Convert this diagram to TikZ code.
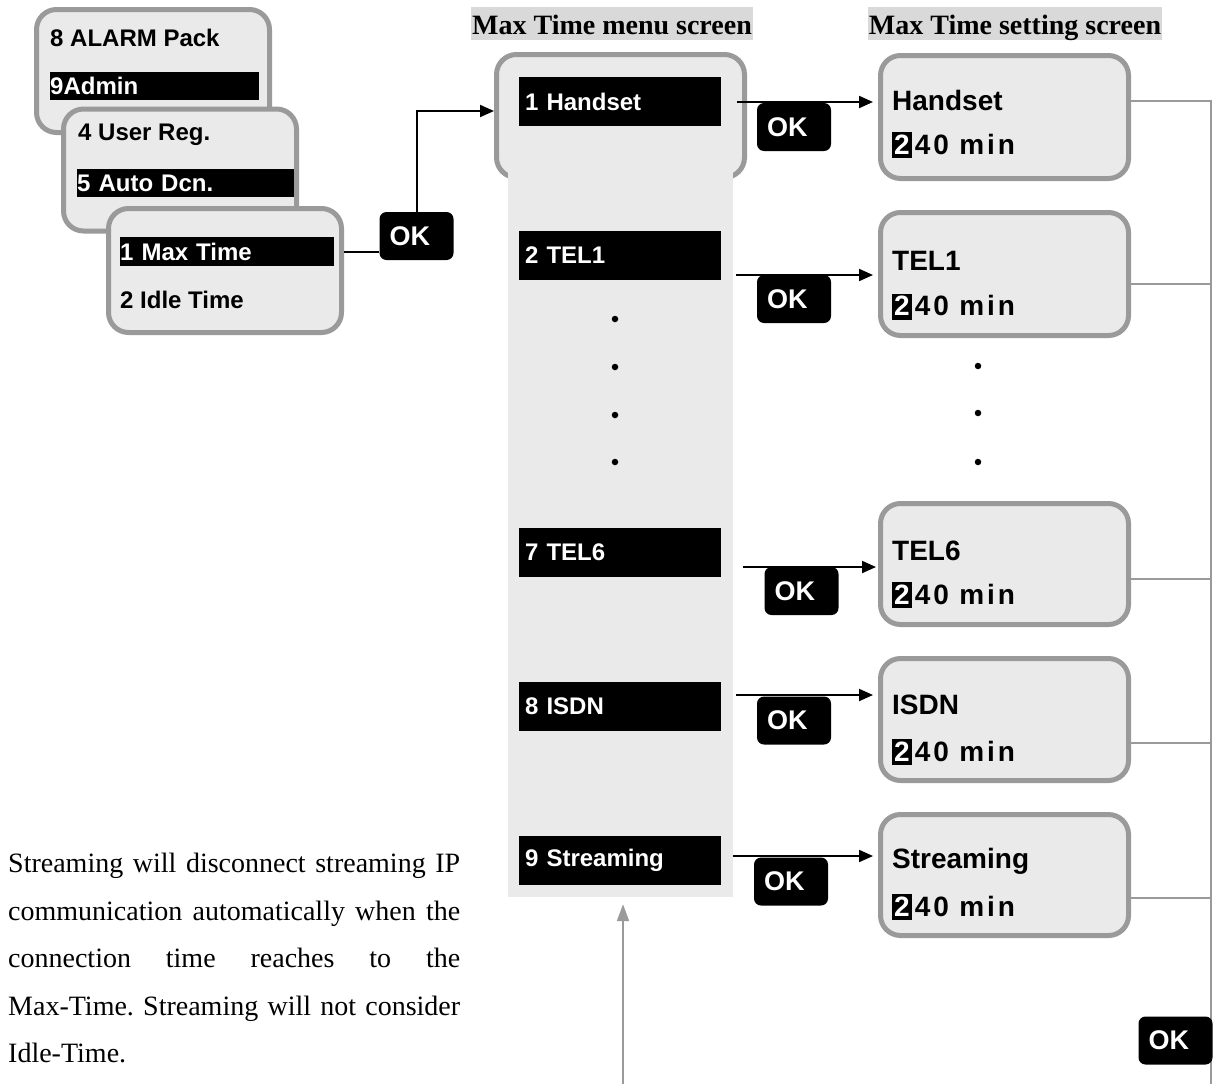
\documentclass[tikz,border=0pt]{standalone}
\usepackage{fontspec}
\setmainfont{Liberation Serif}
\setsansfont{Liberation Sans}
\usetikzlibrary{arrows.meta,calc}
\definecolor{scrfill}{HTML}{EAEAEA}
\definecolor{scrgray}{HTML}{9A9A9A}
\definecolor{hdrgray}{HTML}{D9D9D9}
\frenchspacing
\begin{document}
\begin{tikzpicture}[x=1pt,y=-1pt,
  scr/.style={draw=scrgray, line width=5pt, fill=scrfill, rounded corners=20pt, inner sep=0pt},
  mtxt/.style={font=\sffamily\bfseries\fontsize{24}{28}\selectfont, anchor=west, inner sep=0pt},
  hbar/.style={fill=black, text=white, font=\sffamily\bfseries\fontsize{24}{28}\selectfont, anchor=west, align=left, inner ysep=0pt},
  okbox/.style={fill=black, text=white, rounded corners=7pt, font=\sffamily\bfseries\fontsize{27}{30}\selectfont, text width=54pt, inner xsep=10pt, inner ysep=0pt, minimum height=48pt, align=left},
  ttl/.style={font=\sffamily\bfseries\fontsize{28}{32}\selectfont, anchor=west, inner sep=0pt},
  hl/.style={fill=black, text=white, font=\sffamily\bfseries\fontsize{28}{32}\selectfont, anchor=west, inner xsep=2pt, inner ysep=2pt, text height=20pt, text depth=2pt},
  val/.style={font={\sffamily\bfseries\fontsize{28}{32}\selectfont\addfontfeatures{LetterSpace=10}}, anchor=base west, inner sep=0pt},
  arr/.style={line width=2pt, -{Triangle[length=14pt,width=12pt]}},
  blk/.style={line width=2pt},
  gline/.style={draw=scrgray, line width=2pt},
  garr/.style={draw=scrgray, line width=2pt, -{Triangle[length=17pt,width=12pt]}},
  dot/.style={circle, fill=black, inner sep=0pt, minimum size=6.5pt},
  hdr/.style={fill=hdrgray, font=\bfseries\fontsize{28}{32}\selectfont, inner xsep=1pt, inner ysep=3pt, text height=24pt, text depth=3pt}
]
\useasboundingbox (0,0) rectangle (1214,1084);

% ---- left cascade of screens
\node[scr, minimum width=233pt, minimum height=123pt] (sa) at (153,71) {};
\node[mtxt] (ta1) at (50,38) {8 ALARM Pack};
\node[hbar, text width=209pt, inner xsep=0pt, minimum height=28pt] (ta2) at (50,86) {9Admin};

\node[scr, minimum width=233pt, minimum height=122pt] (sb) at (180,170) {};
\node[mtxt] (tb1) at (78,135) {4 User Reg.};
\node[hbar, text width=217pt, inner xsep=0pt, minimum height=28pt] (tb2) at (77,183) {5 Auto Dcn.};

\node[scr, minimum width=233pt, minimum height=124pt] (sc) at (225,270.5) {};
\node[hbar, text width=214pt, inner xsep=0pt, minimum height=29pt] (tc1) at (120,251.5) {1 Max Time};
\node[mtxt] (tc2) at (120,300) {2 Idle Time};

% ---- headers
\node[hdr] (h1) at (612,23.5) {Max Time menu screen};
\node[hdr] (h2) at (1015,23.5) {Max Time setting screen};

% ---- menu screen
\node[scr, minimum width=248pt, minimum height=123pt] (menu) at (620.5,116) {};
\node[fill=scrfill, inner sep=0pt, minimum width=225pt, minimum height=732pt] (col) at (620.5,531) {};

\node[okbox] (ok0) at (416.5,236) {OK};
\draw[blk] (sc.east |- tc1) -- (ok0.west |- tc1);
\draw[arr] (ok0.north) |- ($(menu.west)+(0,-5)$);

\node[hbar, text width=190pt, inner xsep=6pt, minimum height=49pt] (b1) at (519,101.5) {1 Handset};
\node[hbar, text width=190pt, inner xsep=6pt, minimum height=49pt] (b2) at (519,255.5) {2 TEL1};
\node[hbar, text width=190pt, inner xsep=6pt, minimum height=49pt] (b3) at (519,552.5) {7 TEL6};
\node[hbar, text width=190pt, inner xsep=6pt, minimum height=49pt] (b4) at (519,706.5) {8 ISDN};
\node[hbar, text width=190pt, inner xsep=6pt, minimum height=49pt] (b5) at (519,860.5) {9 Streaming};

\node[dot] (md1) at (615,319) {};
\node[dot] (md2) at (615,367) {};
\node[dot] (md3) at (615,415) {};
\node[dot] (md4) at (615,462) {};

% ---- setting screens
\node[scr, minimum width=248pt, minimum height=123pt] (s1) at (1004.5,117) {};
\node[ttl] (s1t) at (892,100.5) {Handset};
\node[hl] (s1h) at (892,145) {2};
\node[val] (s1v) at ([xshift=2.8pt]s1h.base east) {40 min};

\node[scr, minimum width=248pt, minimum height=123pt] (s2) at (1004.5,274) {};
\node[ttl] (s2t) at (892,261) {TEL1};
\node[hl] (s2h) at (892,306.5) {2};
\node[val] (s2v) at ([xshift=2.8pt]s2h.base east) {40 min};

\node[dot] (sd1) at (978,366) {};
\node[dot] (sd2) at (978,413) {};
\node[dot] (sd3) at (978,462) {};

\node[scr, minimum width=248pt, minimum height=121pt] (s3) at (1004.5,564) {};
\node[ttl] (s3t) at (892,550.5) {TEL6};
\node[hl] (s3h) at (892,595) {2};
\node[val] (s3v) at ([xshift=2.8pt]s3h.base east) {40 min};

\node[scr, minimum width=248pt, minimum height=122pt] (s4) at (1004.5,719.5) {};
\node[ttl] (s4t) at (892,705) {ISDN};
\node[hl] (s4h) at (892,752) {2};
\node[val] (s4v) at ([xshift=2.8pt]s4h.base east) {40 min};

\node[scr, minimum width=248pt, minimum height=121pt] (s5) at (1004.5,875) {};
\node[ttl] (s5t) at (892,861) {Streaming};
\node[hl] (s5h) at (892,907) {2};
\node[val] (s5v) at ([xshift=2.8pt]s5h.base east) {40 min};

% ---- arrows menu -> setting
\coordinate (a1) at (737,102);
\coordinate (a2) at (736,275);
\coordinate (a3) at (743,567);
\coordinate (a4) at (736,695);
\coordinate (a5) at (733,856);
\draw[arr, shorten >=5pt] (a1) -- (a1 -| s1.west);
\draw[arr, shorten >=5pt] (a2) -- (a2 -| s2.west);
\draw[arr, shorten >=2pt] (a3) -- (a3 -| s3.west);
\draw[arr, shorten >=5pt] (a4) -- (a4 -| s4.west);
\draw[arr, shorten >=5pt] (a5) -- (a5 -| s5.west);

\node[okbox] (ok1) at (794,127) {OK};
\node[okbox] (ok2) at (794,299) {OK};
\node[okbox] (ok3) at (801.5,591) {OK};
\node[okbox] (ok4) at (794,720.5) {OK};
\node[okbox] (ok5) at (791,881.5) {OK};

% ---- return lines on the right
\coordinate (v1) at (1211,101);
\coordinate (v2) at (1211,284);
\coordinate (v3) at (1211,579);
\coordinate (v4) at (1211,743);
\coordinate (v5) at (1211,898);
\coordinate (vb) at (1211,1084);
\draw[gline] (v1 -| s1.east) -- (v1) -- (vb);
\draw[gline] (v2 -| s2.east) -- (v2);
\draw[gline] (v3 -| s3.east) -- (v3);
\draw[gline] (v4 -| s4.east) -- (v4);
\draw[gline] (v5 -| s5.east) -- (v5);
\node[okbox] (okb) at (1175.5,1040.5) {OK};

\coordinate (gb) at (623,1084);
\draw[garr, shorten >=7pt] (gb) -- (gb |- col.south);

% ---- note
\node[anchor=north west, inner sep=0pt, text width=452pt, align=justify, font=\fontsize{28}{47.5}\selectfont] (note) at (8,853) {Streaming will disconnect streaming IP\linebreak communication automatically when the\linebreak connection time reaches to the\linebreak Max-Time. Streaming will not consider Idle-Time.};
\end{tikzpicture}
\end{document}
